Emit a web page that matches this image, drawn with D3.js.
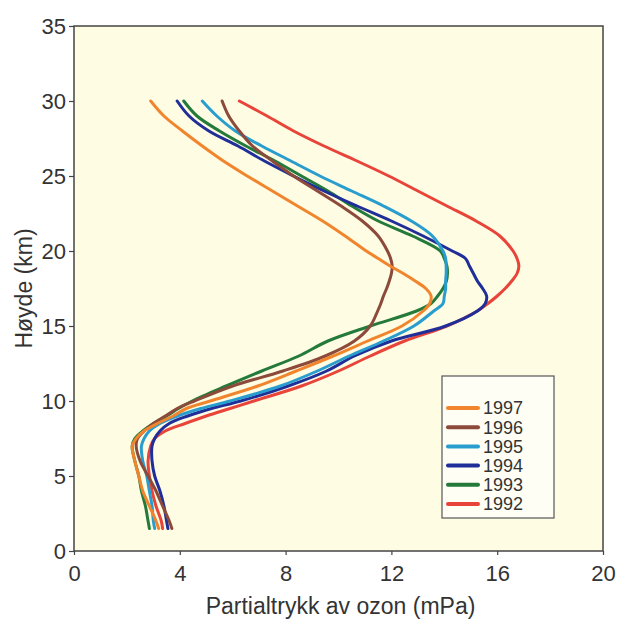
<!DOCTYPE html>
<html>
<head>
<meta charset="utf-8">
<script src="https://cdn.jsdelivr.net/npm/d3@7"></script>
<style>
  html, body { margin: 0; padding: 0; background: #ffffff; }
  svg { display: block; }
  text { font-family: "Liberation Sans", Arial, Helvetica, sans-serif; fill: #333; }
</style>
</head>
<body>
<svg id="chart" width="620" height="622"></svg>
<script>
// Altitudes (km) at which each ozone profile is sampled
const altitudes = [1.5, 2, 3, 4, 5, 6, 7, 7.5, 8, 8.5, 9, 9.5, 10, 11, 12, 13, 14, 15, 16, 16.5, 17, 17.5, 18, 18.5, 19, 19.5, 20, 21, 22, 23, 24, 25, 26, 27, 28, 29, 30];

// Ozone partial pressure (mPa) per year, one value per altitude
const ozone1997 = [3.2, 3.1, 2.85, 2.6, 2.45, 2.3, 2.2, 2.35, 2.65, 3.15, 3.75, 4.25, 5.15, 6.95, 8.4, 9.8, 11.1, 12.4, 13.2, 13.45, 13.5, 13.3, 12.9, 12.45, 11.95, 11.5, 11.05, 10.25, 9.4, 8.45, 7.5, 6.55, 5.65, 4.85, 4.1, 3.4, 2.9];
const ozone1996 = [3.7, 3.6, 3.35, 3.1, 2.8, 2.5, 2.35, 2.4, 2.65, 3.0, 3.45, 3.9, 4.55, 6.0, 7.9, 9.5, 10.6, 11.2, 11.48, 11.6, 11.7, 11.82, 11.92, 12.0, 12.03, 11.97, 11.85, 11.5, 10.9, 10.1, 9.2, 8.3, 7.5, 6.75, 6.25, 5.85, 5.6];
const ozone1995 = [3.05, 3.0, 2.95, 2.85, 2.75, 2.6, 2.55, 2.65, 2.85, 3.25, 3.9, 4.8, 5.9, 7.8, 9.2, 10.4, 11.7, 12.85, 13.6, 13.95, 14.0, 14.05, 14.05, 14.07, 14.07, 14.05, 13.95, 13.55, 12.75, 11.7, 10.5, 9.3, 8.2, 7.1, 6.1, 5.4, 4.85];
const ozone1994 = [3.55, 3.5, 3.4, 3.25, 3.05, 2.95, 2.95, 3.05, 3.25, 3.6, 4.3, 5.2, 6.3, 8.1, 9.55, 10.6, 12.0, 14.05, 15.25, 15.55, 15.6, 15.45, 15.25, 15.1, 14.95, 14.8, 14.3, 13.2, 12.0, 10.7, 9.45, 8.3, 7.2, 6.2, 5.1, 4.35, 3.9];
const ozone1993 = [2.85, 2.8, 2.7, 2.55, 2.45, 2.3, 2.2, 2.3, 2.6, 3.0, 3.5, 3.95, 4.47, 5.75, 7.1, 8.5, 9.6, 11.2, 12.95, 13.5, 13.75, 13.95, 14.08, 14.12, 14.1, 14.0, 13.85, 12.8, 11.5, 10.5, 9.6, 8.6, 7.6, 6.5, 5.5, 4.65, 4.15];
const ozone1992 = [3.35, 3.3, 3.1, 2.95, 2.85, 2.8, 2.9, 3.05, 3.45, 4.2, 5.0, 5.9, 6.8, 8.6, 10.0, 11.2, 12.5, 14.1, 15.25, 15.65, 16.0, 16.3, 16.55, 16.75, 16.82, 16.75, 16.6, 16.1, 15.2, 14.1, 13.0, 11.9, 10.7, 9.45, 8.3, 7.3, 6.25];

// Legend order, labels and line colours
const years = ["1997", "1996", "1995", "1994", "1993", "1992"];
const seriesValues = [ozone1997, ozone1996, ozone1995, ozone1994, ozone1993, ozone1992];
const colors = ["#f0852e", "#8c4a3a", "#2a9dcf", "#1f2e98", "#247a3a", "#e8443a"];

// Axis ticks
const xTicks = [0, 4, 8, 12, 16, 20];
const yTicks = [0, 5, 10, 15, 20, 25, 30, 35];

const svg = d3.select("#chart");
const plot = { left: 74, right: 603, top: 26, bottom: 551 };

const x = d3.scaleLinear().domain([0, 20]).range([plot.left, plot.right]);
const y = d3.scaleLinear().domain([0, 35]).range([plot.bottom, plot.top]);

// Plot background
svg.append("rect")
  .attr("x", plot.left).attr("y", plot.top)
  .attr("width", plot.right - plot.left).attr("height", plot.bottom - plot.top)
  .attr("fill", "#fefce3");

// Axes
const xAxis = svg.append("g")
  .attr("transform", `translate(0,${plot.bottom})`)
  .call(d3.axisBottom(x).tickValues(xTicks).tickSize(4).tickPadding(6).tickFormat(d3.format("d")));
const yAxis = svg.append("g")
  .attr("transform", `translate(${plot.left},0)`)
  .call(d3.axisLeft(y).tickValues(yTicks).tickSize(5).tickPadding(3).tickFormat(d3.format("d")));

[xAxis, yAxis].forEach(g => {
  g.select(".domain").remove();
  g.selectAll(".tick line").attr("stroke", "#444").attr("stroke-width", 1.2);
  g.selectAll(".tick text").style("font-size", "22px").attr("fill", "#333");
});
xAxis.selectAll(".tick text").attr("dy", "0.9em");

// Profiles
const line = d3.line()
  .x(d => x(d[0]))
  .y(d => y(d[1]))
  .curve(d3.curveCatmullRom.alpha(0.5));

const order = [5, 4, 3, 2, 1, 0];
order.forEach(i => {
  const pts = seriesValues[i].map((v, k) => [v, altitudes[k]]);
  svg.append("path")
    .datum(pts)
    .attr("d", line)
    .attr("fill", "none")
    .attr("stroke", colors[i])
    .attr("stroke-width", 3)
    .attr("stroke-linejoin", "round")
    .attr("stroke-linecap", "round");
});

// Plot frame
svg.append("rect")
  .attr("x", plot.left).attr("y", plot.top)
  .attr("width", plot.right - plot.left).attr("height", plot.bottom - plot.top)
  .attr("fill", "none")
  .attr("stroke", "#444")
  .attr("stroke-width", 1.5);

// Legend
const legend = svg.append("g").attr("transform", "translate(442,376)");
legend.append("rect")
  .attr("width", 112).attr("height", 142)
  .attr("fill", "#fffef4")
  .attr("stroke", "#555")
  .attr("stroke-width", 1.2);
years.forEach((yr, i) => {
  const ly = 32 + i * 19.2;
  legend.append("line")
    .attr("x1", 6).attr("x2", 36)
    .attr("y1", ly).attr("y2", ly)
    .attr("stroke", colors[i])
    .attr("stroke-width", 4)
    .attr("stroke-linecap", "round");
  legend.append("text")
    .attr("x", 41).attr("y", ly)
    .attr("dy", "0.36em")
    .style("font-size", "18px")
    .text(yr);
});

// Axis titles
svg.append("text")
  .attr("x", (plot.left + plot.right) / 2 + 2)
  .attr("y", 614)
  .attr("text-anchor", "middle")
  .style("font-size", "23px")
  .text("Partialtrykk av ozon (mPa)");

svg.append("text")
  .attr("transform", `translate(32,${(plot.top + plot.bottom) / 2}) rotate(-90)`)
  .attr("text-anchor", "middle")
  .style("font-size", "23px")
  .text("Høyde (km)");
</script>
</body>
</html>
